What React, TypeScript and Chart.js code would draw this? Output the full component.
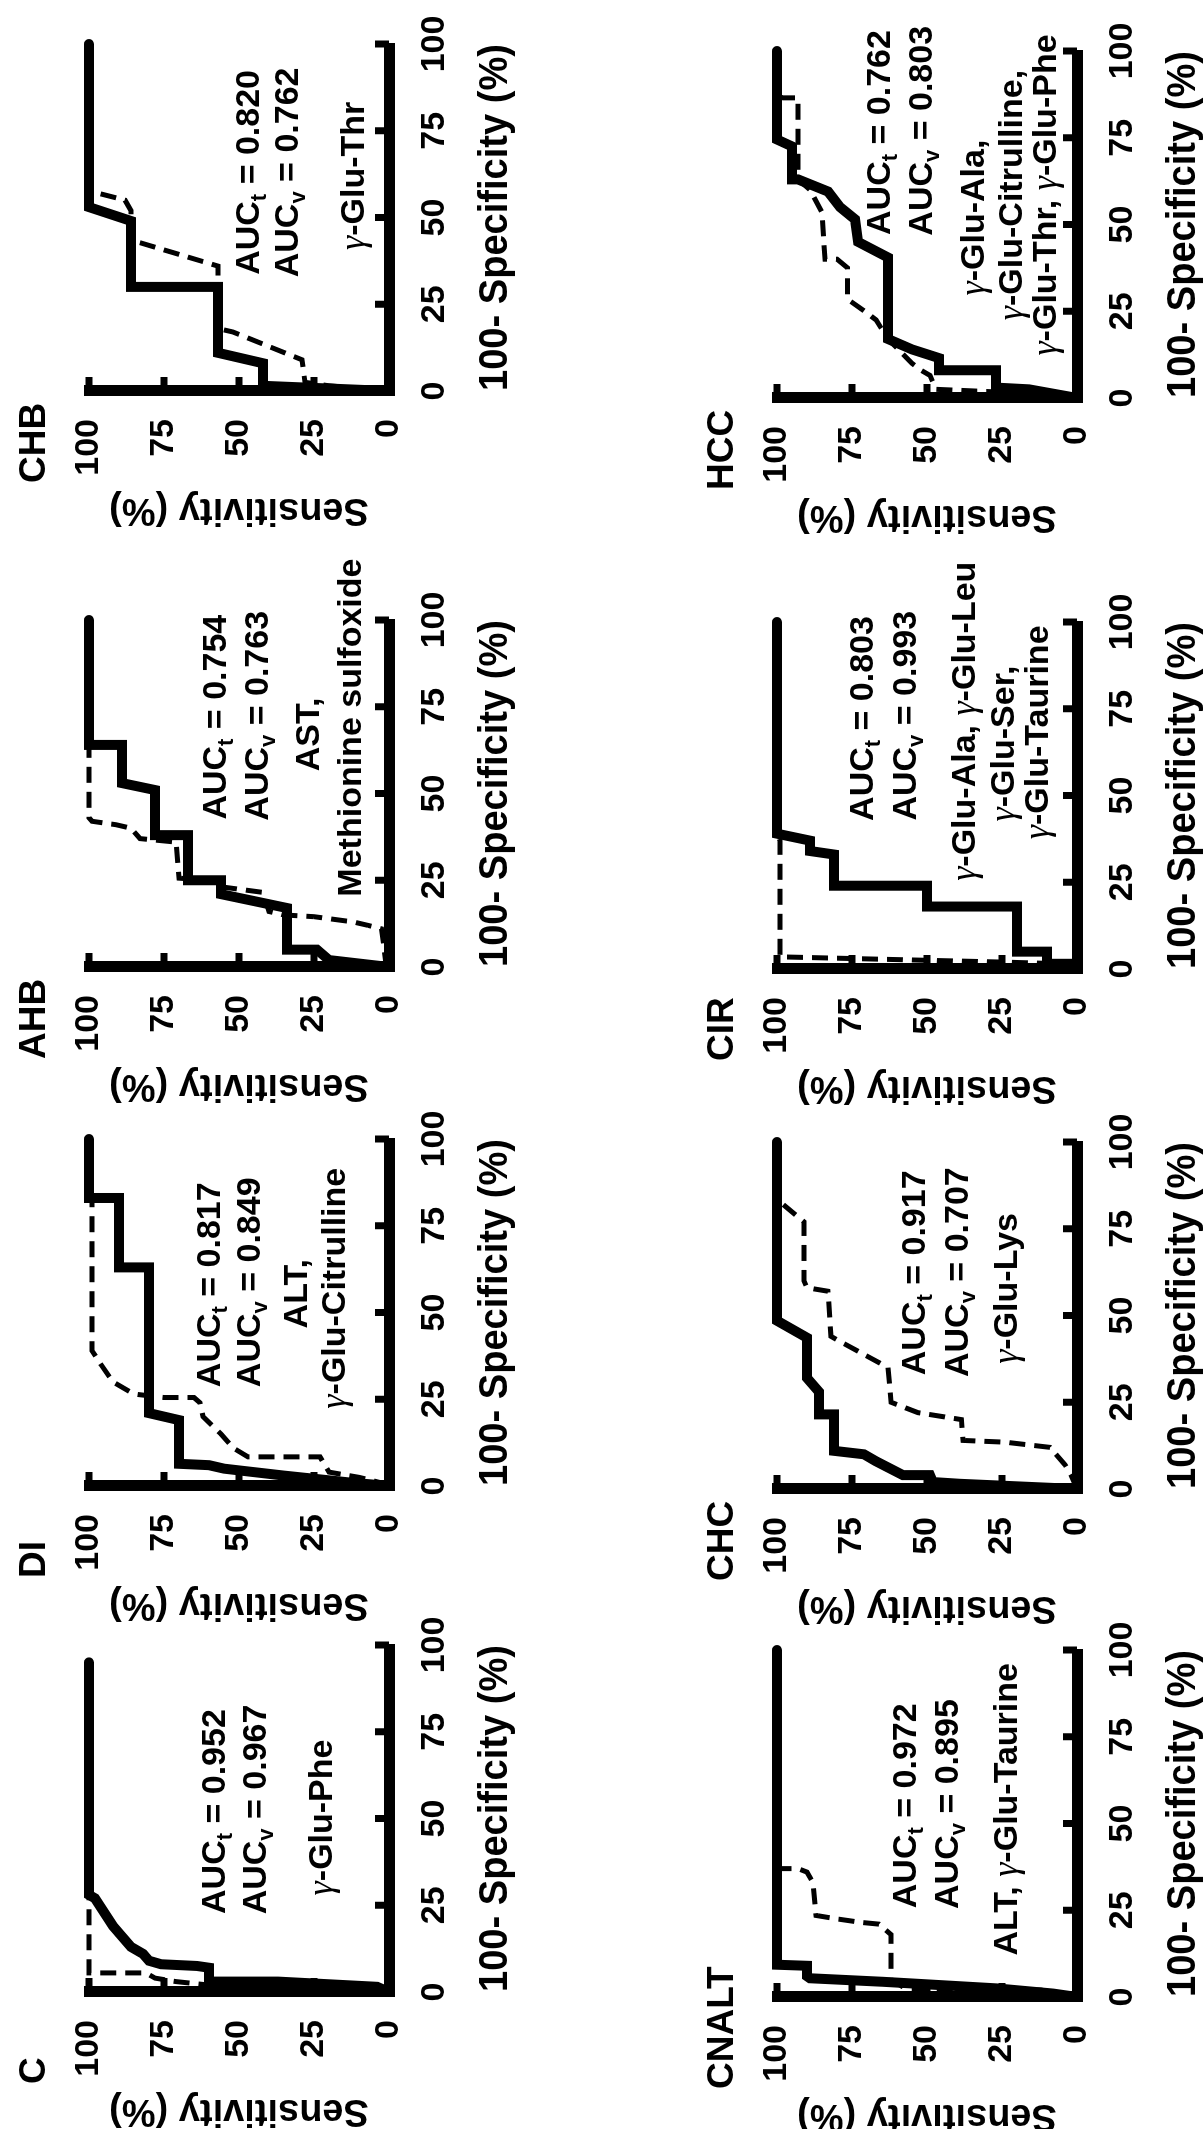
import React, { useEffect, useRef } from 'react';
import { Chart, registerables } from 'chart.js';

Chart.register(...registerables);

const SANS = "'Liberation Sans', Arial, Helvetica, sans-serif";
const SERIF = "'Liberation Serif', 'Times New Roman', serif";

// ---------------- data ----------------
// panel order: top row of the unrotated figure (C, DI, AHB, CHB), then bottom row (CNALT, CHC, CIR, HCC)
const panelNames = ['C', 'DI', 'AHB', 'CHB', 'CNALT', 'CHC', 'CIR', 'HCC'];
const aucTraining = [0.952, 0.817, 0.754, 0.82, 0.972, 0.917, 0.803, 0.762];
const aucValidation = [0.967, 0.849, 0.763, 0.762, 0.895, 0.707, 0.993, 0.803];
const markerLines = [
  ['γ-Glu-Phe'],
  ['ALT,', 'γ-Glu-Citrulline'],
  ['AST,', 'Methionine sulfoxide'],
  ['γ-Glu-Thr'],
  ['ALT, γ-Glu-Taurine'],
  ['γ-Glu-Lys'],
  ['γ-Glu-Ala, γ-Glu-Leu', 'γ-Glu-Ser,', 'γ-Glu-Taurine'],
  ['γ-Glu-Ala,', 'γ-Glu-Citrulline,', 'γ-Glu-Thr, γ-Glu-Phe'],
];
const xTickValues = [0, 25, 50, 75, 100];
const yTickValues = [0, 25, 50, 75, 100];
const xAxisTitle = '100- Specificity (%)';
const yAxisTitle = 'Sensitivity (%)';

// ROC curves: [100 - specificity (%), sensitivity (%)]; solid = training, dashed = validation
const cTrain = [[0, 0], [1.5, 4], [3, 37], [3, 60], [7, 60], [7.5, 64], [8, 76], [9, 80], [11, 82], [13, 86], [19, 92], [27, 98], [28, 100], [95, 100]];
const cValid = [[0, 0], [1, 5], [1, 36], [2, 60], [3, 71], [4, 78], [5.5, 81], [5.5, 100], [95, 100]];
const diTrain = [[0, 0], [1, 13], [3, 35], [4, 45], [5, 55], [6, 60], [6.4, 70], [19, 70], [21, 80], [63, 80], [63, 90], [83, 90], [83, 100], [100, 100]];
const diValid = [[0, 0], [1, 3], [2.5, 10], [4, 20], [8.4, 23], [8.4, 47], [11, 52], [15, 56], [20, 62], [24, 63], [25.5, 65], [25.5, 75], [26.5, 85], [30, 92], [35, 96], [39, 99], [83, 99], [84, 100], [100, 100]];
const ahbTrain = [[0, 0], [2, 20], [5, 24], [5, 34], [17, 34], [21, 56], [25, 56], [25, 67], [38, 67], [38, 78], [51, 78], [53, 89], [64, 89], [64, 100], [100, 100]];
const ahbValid = [[0, 0], [1, 1], [11, 2.5], [12, 7], [13, 12], [14.5, 25], [15, 35], [16, 40], [21.5, 42], [23, 55], [25, 60], [25.6, 70], [36, 71], [37, 83], [40, 86], [41, 91], [42, 99], [43, 100], [100, 100]];
const chbTrain = [[0, 0], [1.5, 42], [8, 42], [11, 57], [30, 57], [30, 86], [49, 86], [53, 100], [100, 100]];
const chbValid = [[0, 0], [1.5, 20], [2.5, 28], [9, 29], [17, 52], [18, 57], [36, 57], [43, 84], [44, 86], [52, 86], [55, 88], [57, 97], [57, 100], [100, 100]];
const cnaltTrain = [[0, 0], [1, 8], [2.5, 27], [3.5, 47], [4.4, 65], [5.4, 89], [6, 90], [9, 90], [9.3, 100], [100, 100]];
const cnaltValid = [[0, 0], [2, 12], [2.4, 57], [5, 62], [18, 62], [21, 66], [21.5, 72], [22.5, 80], [23.5, 87], [33, 88], [36, 90], [37, 93], [37, 100], [100, 100]];
const chcTrain = [[0, 0], [1.5, 39], [2, 48], [4, 49], [4, 58], [8, 67], [10, 71], [11, 81], [21.5, 81], [21.5, 86], [28, 86], [32, 90], [43.6, 90], [48.5, 100], [100, 100]];
const chcValid = [[0, 0], [4, 2], [7, 4], [12, 9], [12.5, 14], [13.5, 24], [14, 38], [20, 38.5], [22, 53], [25, 62], [35, 63], [43, 80], [44, 82], [57, 83], [58, 90], [60, 91], [77, 91], [82, 98], [83, 100], [100, 100]];
const cirTrain = [[0, 0], [1.5, 2], [1.5, 10], [5, 10], [5, 20], [18, 20], [18, 50], [24, 50], [24, 81], [33, 81], [34, 89], [37, 89], [39, 100], [100, 100]];
const cirValid = [[0, 0], [1.5, 5], [2, 25], [3.5, 99], [37, 99], [39, 100], [100, 100]];
const hccTrain = [[0, 0], [2.5, 16], [3, 27], [8, 27], [8, 46], [11.5, 46], [14, 55], [17, 63], [40.5, 63], [45, 73], [51.5, 74], [55, 79], [59.5, 83], [63, 93], [63, 95], [72.5, 95], [74.5, 100], [100, 100]];
const hccValid = [[0, 0], [1.5, 20], [2.5, 47], [6.5, 49], [8, 52], [10, 55], [17, 63], [22.5, 67], [24.5, 70], [28.5, 76.5], [37.5, 76.5], [40, 80], [40, 84], [53.5, 85], [60, 89], [63, 93], [86.5, 93], [86.5, 98], [87, 100], [100, 100]];

const trainingCurves = [cTrain, diTrain, ahbTrain, chbTrain, cnaltTrain, chcTrain, cirTrain, hccTrain];
const validationCurves = [cValid, diValid, ahbValid, chbValid, cnaltValid, chcValid, cirValid, hccValid];

// ---------------- layout (positions only) ----------------
// chart-area origin (spec 0 / sens 100 corner) of each panel, in the unrotated figure's pixels
const panelOrigin = [
  [137, 89], [643, 89], [1162, 89], [1738, 89],
  [132, 777], [640, 777], [1160, 777], [1731, 777],
];
// annotation anchors in data units: [spec centre, sens baseline]
const aucAnchors = [
  [[52, 54.7], [52.6, 40.9]],
  [[58, 56.3], [58.7, 43]],
  [[72, 54.4], [72.4, 40.5]],
  [[63, 43.3], [63, 30.5]],
  [[55.1, 53.8], [55.6, 39.7]],
  [[62.3, 50.6], [62.5, 36.5]],
  [[72.2, 68], [73, 53.8]],
  [[76.5, 62.4], [77, 48.4]],
];
const markerAnchors = [
  [[50.3, 18.9]],
  [[55.4, 27.2], [57, 14.6]],
  [[67, 23.4], [69, 9.5]],
  [[62, 8.5]],
  [[54.1, 19.9]],
  [[57.8, 20]],
  [[71.4, 34], [65, 21], [68.2, 9.6]],
  [[52, 31], [58.5, 18.5], [58.5, 7]],
];

const PAD = { top: 91, left: 0, right: 80, bottom: 10 };
const Y_AXIS_W = 141;
const X_AXIS_H = 131;
const PLOT_W = 347;
const PLOT_H = 300;
const CANVAS_W = PAD.left + Y_AXIS_W + PLOT_W + PAD.right;
const CANVAS_H = PAD.top + PLOT_H + X_AXIS_H + PAD.bottom;
const TEXT_SIZE = 34;

// ---------------- helpers ----------------
type Seg = { t: string; font: string; dy: number };
function parseRich(text: string, size: number): Seg[] {
  const segs: Seg[] = [];
  let buf = '';
  const flush = () => {
    if (buf) {
      segs.push({ t: buf, font: `bold ${size}px ${SANS}`, dy: 0 });
      buf = '';
    }
  };
  for (let i = 0; i < text.length; i++) {
    const ch = text[i];
    if (ch === '_' && i + 1 < text.length) {
      flush();
      segs.push({ t: text[i + 1], font: `bold ${Math.round(size * 0.66)}px ${SANS}`, dy: Math.round(size * 0.22) });
      i++;
    } else if (ch === 'γ') {
      flush();
      segs.push({ t: 'γ', font: `italic ${Math.round(size * 1.05)}px ${SERIF}`, dy: 0 });
    } else {
      buf += ch;
    }
  }
  flush();
  return segs;
}

function drawRich(ctx: CanvasRenderingContext2D, text: string, cx: number, baseline: number, size: number) {
  const segs = parseRich(text, size);
  let total = 0;
  const widths = segs.map((s) => {
    ctx.font = s.font;
    const w = ctx.measureText(s.t).width;
    total += w;
    return w;
  });
  let x = cx - total / 2;
  ctx.textAlign = 'left';
  ctx.textBaseline = 'alphabetic';
  segs.forEach((s, i) => {
    ctx.font = s.font;
    ctx.fillText(s.t, x, baseline + s.dy);
    x += widths[i];
  });
}

const inwardTicks = {
  id: 'inwardTicks',
  afterDatasetsDraw(chart: any) {
    const { ctx, chartArea, scales } = chart;
    ctx.save();
    ctx.strokeStyle = '#000';
    ctx.lineWidth = 7;
    ctx.lineCap = 'butt';
    for (const t of scales.x.ticks) {
      const px = scales.x.getPixelForValue(t.value);
      ctx.beginPath();
      ctx.moveTo(px, chartArea.bottom);
      ctx.lineTo(px, chartArea.bottom - 14);
      ctx.stroke();
    }
    for (const t of scales.y.ticks) {
      const py = scales.y.getPixelForValue(t.value);
      ctx.beginPath();
      ctx.moveTo(chartArea.left, py);
      ctx.lineTo(chartArea.left + 14, py);
      ctx.stroke();
    }
    ctx.restore();
  },
};

const panelText = {
  id: 'panelText',
  afterDraw(chart: any, _args: any, opts: any) {
    const { ctx, chartArea, scales } = chart;
    ctx.save();
    ctx.fillStyle = '#000';
    ctx.font = `bold 37px ${SANS}`;
    ctx.textAlign = 'left';
    ctx.textBaseline = 'alphabetic';
    ctx.fillText(opts.title, chartArea.left - 92, chartArea.top - 44);
    (opts.lines || []).forEach((ln: any) => {
      const x = scales.x.getPixelForValue(ln.x);
      const y = scales.y.getPixelForValue(ln.y);
      drawRich(ctx, ln.text, x, y, TEXT_SIZE);
    });
    ctx.restore();
  },
};

function RocPanel({ idx }: { idx: number }) {
  const ref = useRef<HTMLCanvasElement>(null);
  useEffect(() => {
    const toPts = (arr: number[][]) => arr.map(([x, y]) => ({ x, y }));
    const lines: any[] = [];
    lines.push({ text: `AUC_t = ${aucTraining[idx].toFixed(3)}`, x: aucAnchors[idx][0][0], y: aucAnchors[idx][0][1] });
    lines.push({ text: `AUC_v = ${aucValidation[idx].toFixed(3)}`, x: aucAnchors[idx][1][0], y: aucAnchors[idx][1][1] });
    markerLines[idx].forEach((t, j) => {
      lines.push({ text: t, x: markerAnchors[idx][j][0], y: markerAnchors[idx][j][1] });
    });
    const tickFont = { family: SANS, size: 34, weight: 'bold' as const };
    const chart = new Chart(ref.current as HTMLCanvasElement, {
      type: 'scatter',
      data: {
        datasets: [
          {
            data: toPts(trainingCurves[idx]),
            showLine: true,
            borderColor: '#000',
            backgroundColor: '#000',
            borderWidth: 10,
            pointRadius: 0,
            borderCapStyle: 'round',
            borderJoinStyle: 'miter',
            tension: 0,
            clip: false,
          } as any,
          {
            data: toPts(validationCurves[idx]),
            showLine: true,
            borderColor: '#000',
            backgroundColor: '#000',
            borderWidth: 5,
            borderDash: [16, 9],
            pointRadius: 0,
            borderCapStyle: 'butt',
            borderJoinStyle: 'miter',
            tension: 0,
            clip: false,
          } as any,
        ],
      },
      options: {
        animation: false,
        responsive: false,
        devicePixelRatio: 1,
        layout: { autoPadding: false, padding: PAD } as any,
        plugins: {
          legend: { display: false },
          tooltip: { enabled: false },
          panelText: { title: panelNames[idx], lines },
        } as any,
        scales: {
          x: {
            type: 'linear',
            position: 'bottom',
            min: 0,
            max: 100,
            afterBuildTicks: (s: any) => {
              s.ticks = xTickValues.map((v) => ({ value: v }));
            },
            afterFit: (s: any) => {
              s.height = X_AXIS_H;
            },
            grid: { display: false, drawTicks: false },
            border: { display: true, width: 11, color: '#000' },
            ticks: { font: tickFont, color: '#000', padding: 25, maxRotation: 0, minRotation: 0, autoSkip: false },
            title: { display: true, text: xAxisTitle, color: '#000', font: { family: SANS, size: 40, weight: 'bold' }, padding: 0 },
          },
          y: {
            type: 'linear',
            position: 'left',
            min: 0,
            max: 100,
            afterBuildTicks: (s: any) => {
              s.ticks = yTickValues.map((v) => ({ value: v }));
            },
            afterFit: (s: any) => {
              s.width = Y_AXIS_W;
            },
            grid: { display: false, drawTicks: false },
            border: { display: true, width: 11, color: '#000' },
            ticks: { font: tickFont, color: '#000', padding: 28, autoSkip: false },
            title: { display: true, text: yAxisTitle, color: '#000', font: { family: SANS, size: 38, weight: 'bold' }, padding: 0 },
          },
        } as any,
      },
      plugins: [inwardTicks, panelText],
    } as any);
    return () => chart.destroy();
  }, [idx]);
  const [ox, oy] = panelOrigin[idx];
  const left = ox - (PAD.left + Y_AXIS_W);
  const top = oy - PAD.top;
  return (
    <canvas
      ref={ref}
      width={CANVAS_W}
      height={CANVAS_H}
      style={{ position: 'absolute', left, top, width: CANVAS_W, height: CANVAS_H }}
    />
  );
}

export default function App() {
  return (
    <div style={{ position: 'fixed', left: 0, top: 0, width: 1203, height: 2129, overflow: 'hidden', background: '#fff' }}>
      <div
        style={{
          position: 'absolute',
          left: 0,
          top: 0,
          width: 2129,
          height: 1203,
          transformOrigin: '0 0',
          transform: 'translate(0px, 2129px) rotate(-90deg)',
        }}
      >
        {panelNames.map((_, i) => (
          <RocPanel key={i} idx={i} />
        ))}
      </div>
    </div>
  );
}
